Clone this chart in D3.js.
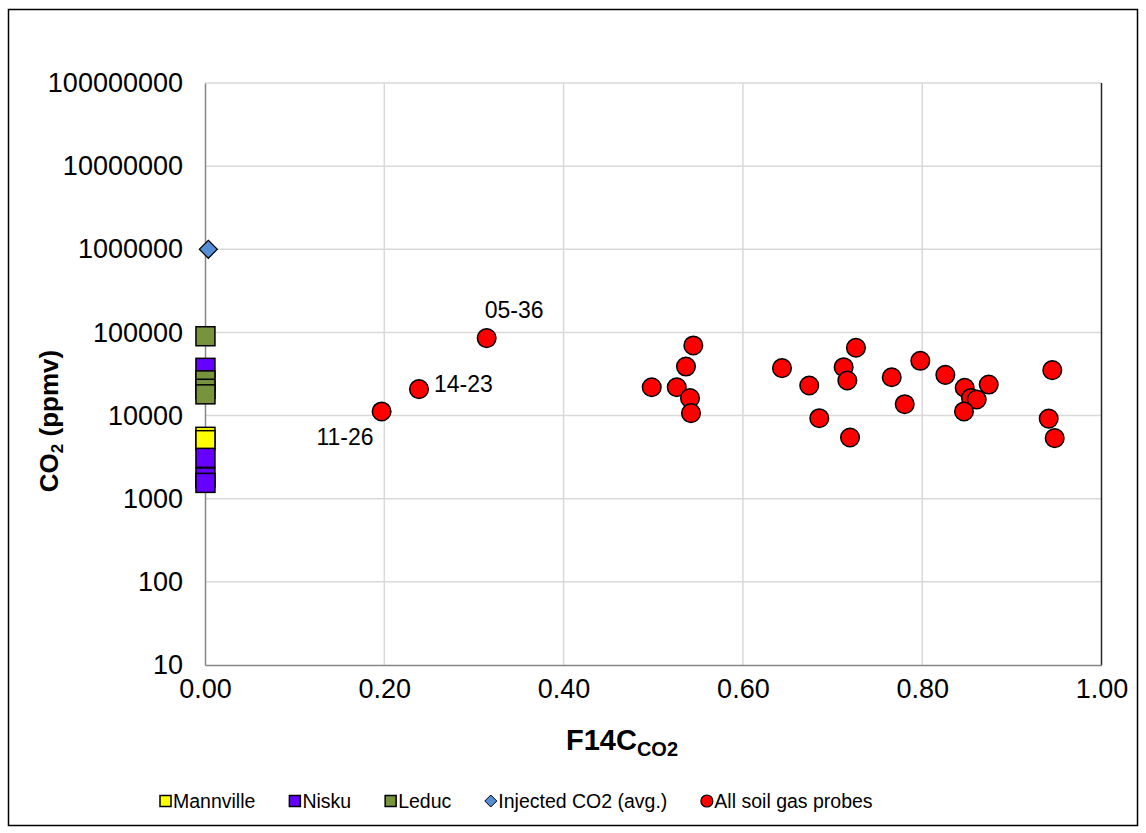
<!DOCTYPE html>
<html>
<head>
<meta charset="utf-8">
<script src="https://cdn.jsdelivr.net/npm/d3@7"></script>
<style>
  html, body { margin: 0; padding: 0; background: #fff; }
  svg { display: block; font-family: "Liberation Sans", Arial, sans-serif; }
</style>
</head>
<body>
<svg id="chart" width="1146" height="833"></svg>
<script>
// ---- Data: radiocarbon fraction (F14C) vs CO2 concentration (ppmv) ----
const mannvilleF14C = [0.0005, 0.0005];
const mannvilleCO2  = [5550, 5060];

const niskuF14C = [0.0005, 0.0005, 0.0005, 0.0005];
const niskuCO2  = [37500, 3100, 1800, 1550];

const leducF14C = [0.0005, 0.0005, 0.0005, 0.0005];
const leducCO2  = [90000, 26500, 21000, 18000];

const injectedF14C = [0.0037];
const injectedCO2  = [1000000];

const soilF14C = [0.197, 0.2387, 0.3142, 0.4983, 0.5262, 0.5365, 0.5447, 0.541, 0.5421,
                  0.6436, 0.674, 0.6852, 0.7124, 0.7261, 0.7165, 0.7195, 0.766, 0.7805,
                  0.7979, 0.8258, 0.8474, 0.8544, 0.8608, 0.8466, 0.8742, 0.9451, 0.9411, 0.9478];
const soilCO2  = [11200, 20800, 85500, 21900, 21900, 38900, 69700, 16200, 10700,
                  37200, 23000, 9300, 38200, 65400, 26400, 5450, 28900, 13700,
                  45600, 30900, 21600, 16300, 15600, 11200, 23600, 35200, 9200, 5350];
const soilLabels = ["11-26", "14-23", "05-36", "", "", "", "", "", "",
                    "", "", "", "", "", "", "", "", "",
                    "", "", "", "", "", "", "", "", "", ""];

const xTicks = [0, 0.2, 0.4, 0.6, 0.8, 1.0];
const yTicks = [10, 100, 1000, 10000, 100000, 1000000, 10000000, 100000000];

const legendNames = ["Mannville", "Nisku", "Leduc", "Injected CO2 (avg.)", "All soil gas probes"];

// ---- Layout ----
const svg = d3.select("#chart");
const plot = { left: 205, right: 1101.5, top: 83, bottom: 665 };

const x = d3.scaleLinear().domain([0, 1]).range([plot.left, plot.right]);
const y = d3.scaleLog().domain([10, 1e8]).range([plot.bottom, plot.top]);

// outer chart border
svg.append("rect")
  .attr("x", 8.5).attr("y", 9.5).attr("width", 1129).attr("height", 816)
  .attr("fill", "#fff").attr("stroke", "#000").attr("stroke-width", 1.5);

// gridlines
const grid = svg.append("g").attr("stroke", "#d9d9d9").attr("stroke-width", 1.5);
grid.selectAll("line.h").data(yTicks.slice(1)).join("line")
  .attr("x1", plot.left).attr("x2", plot.right)
  .attr("y1", d => y(d)).attr("y2", d => y(d));
grid.selectAll("line.v").data(xTicks.slice(1, -1)).join("line")
  .attr("y1", plot.top).attr("y2", plot.bottom)
  .attr("x1", d => x(d)).attr("x2", d => x(d));

// right edge of plot area
svg.append("line")
  .attr("x1", plot.right).attr("x2", plot.right)
  .attr("y1", plot.top).attr("y2", plot.bottom)
  .attr("stroke", "#262626").attr("stroke-width", 1.5);

// axes
const xAxis = d3.axisBottom(x).tickValues(xTicks).tickFormat(d3.format(".2f")).tickSize(0).tickPadding(14);
const yAxis = d3.axisLeft(y).tickValues(yTicks).tickFormat(d3.format("d")).tickSize(0).tickPadding(22);

const gx = svg.append("g").attr("transform", `translate(0,${plot.bottom})`).call(xAxis);
const gy = svg.append("g").attr("transform", `translate(${plot.left},0)`).call(yAxis);
[gx, gy].forEach(g => {
  g.select(".domain").attr("stroke", "#868686").attr("stroke-width", 1.5);
  g.selectAll("text").attr("fill", "#000").attr("font-size", 27)
   .attr("font-family", "'Liberation Sans', Arial, sans-serif");
});

// axis titles
const xTitle = svg.append("text")
  .attr("x", 622).attr("y", 750)
  .attr("text-anchor", "middle")
  .attr("font-size", 29).attr("font-weight", "bold").attr("fill", "#000");
xTitle.append("tspan").text("F14C");
xTitle.append("tspan").attr("font-size", 20).attr("dy", 6).text("CO2");

const yTitle = svg.append("text")
  .attr("transform", "translate(58,421) rotate(-90)")
  .attr("text-anchor", "middle")
  .attr("font-size", 26).attr("font-weight", "bold").attr("fill", "#000");
yTitle.append("tspan").text("CO");
yTitle.append("tspan").attr("font-size", 17).attr("dy", 5).text("2");
yTitle.append("tspan").attr("dy", -5).text(" (ppmv)");

// ---- Markers ----
const sq = 19;
function squares(xs, ys, color) {
  svg.append("g").selectAll("rect").data(xs.map((d, i) => [d, ys[i]])).join("rect")
    .attr("x", d => x(d[0]) - sq / 2).attr("y", d => y(d[1]) - sq / 2)
    .attr("width", sq).attr("height", sq)
    .attr("fill", color).attr("stroke", "#000").attr("stroke-width", 1.5);
}
squares(mannvilleF14C, mannvilleCO2, "#ffff00");
squares(niskuF14C, niskuCO2, "#6600ff");
squares(leducF14C, leducCO2, "#77933c");

const dia = 9;
svg.append("g").selectAll("path").data(injectedF14C.map((d, i) => [d, injectedCO2[i]])).join("path")
  .attr("d", d => {
    const cx = x(d[0]), cy = y(d[1]);
    return `M${cx},${cy - dia}L${cx + dia},${cy}L${cx},${cy + dia}L${cx - dia},${cy}Z`;
  })
  .attr("fill", "#558ed5").attr("stroke", "#000").attr("stroke-width", 1.2);

const soil = soilF14C.map((d, i) => ({ f: d, c: soilCO2[i], label: soilLabels[i] }));
svg.append("g").selectAll("circle").data(soil).join("circle")
  .attr("cx", d => x(d.f)).attr("cy", d => y(d.c)).attr("r", 9.3)
  .attr("fill", "#ff0000").attr("stroke", "#000").attr("stroke-width", 1.5);

// point labels for selected probes
const labelPlacement = {
  "11-26": { dx: -8, dy: 34, anchor: "end" },
  "14-23": { dx: 15, dy: 3, anchor: "start" },
  "05-36": { dx: -2, dy: -20, anchor: "start" }
};
svg.append("g").selectAll("text").data(soil.filter(d => d.label)).join("text")
  .attr("x", d => x(d.f) + labelPlacement[d.label].dx)
  .attr("y", d => y(d.c) + labelPlacement[d.label].dy)
  .attr("text-anchor", d => labelPlacement[d.label].anchor)
  .attr("font-size", 23).attr("fill", "#000")
  .text(d => d.label);

// ---- Legend ----
const legendMarkers = [
  { shape: "square", color: "#ffff00" },
  { shape: "square", color: "#6600ff" },
  { shape: "square", color: "#77933c" },
  { shape: "diamond", color: "#558ed5" },
  { shape: "circle", color: "#ff0000" }
];
const legendY = 801;
const legendFont = 19.5;
const legend = svg.append("g");
// measure text widths so items are evenly spaced
const widths = legendNames.map(n => {
  const t = legend.append("text").attr("font-size", legendFont).text(n);
  const w = t.node().getComputedTextLength();
  t.remove();
  return w;
});
const markerW = 13, gap = 34;
let cursor = 160;
legendNames.forEach((name, i) => {
  const m = legendMarkers[i];
  const cx = cursor + 5.5;
  if (m.shape === "square") {
    legend.append("rect").attr("x", cx - 5.5).attr("y", legendY - 5.5)
      .attr("width", 11).attr("height", 11)
      .attr("fill", m.color).attr("stroke", "#000").attr("stroke-width", 1.5);
  } else if (m.shape === "diamond") {
    legend.append("path")
      .attr("d", `M${cx},${legendY - 6}L${cx + 6},${legendY}L${cx},${legendY + 6}L${cx - 6},${legendY}Z`)
      .attr("fill", m.color).attr("stroke", "#000").attr("stroke-width", 1);
  } else {
    legend.append("circle").attr("cx", cx).attr("cy", legendY).attr("r", 6)
      .attr("fill", m.color).attr("stroke", "#000").attr("stroke-width", 1.2);
  }
  legend.append("text")
    .attr("x", cursor + markerW).attr("y", legendY)
    .attr("dominant-baseline", "central")
    .attr("font-size", legendFont).attr("fill", "#000")
    .text(name);
  cursor += markerW + widths[i] + gap;
});
</script>
</body>
</html>
